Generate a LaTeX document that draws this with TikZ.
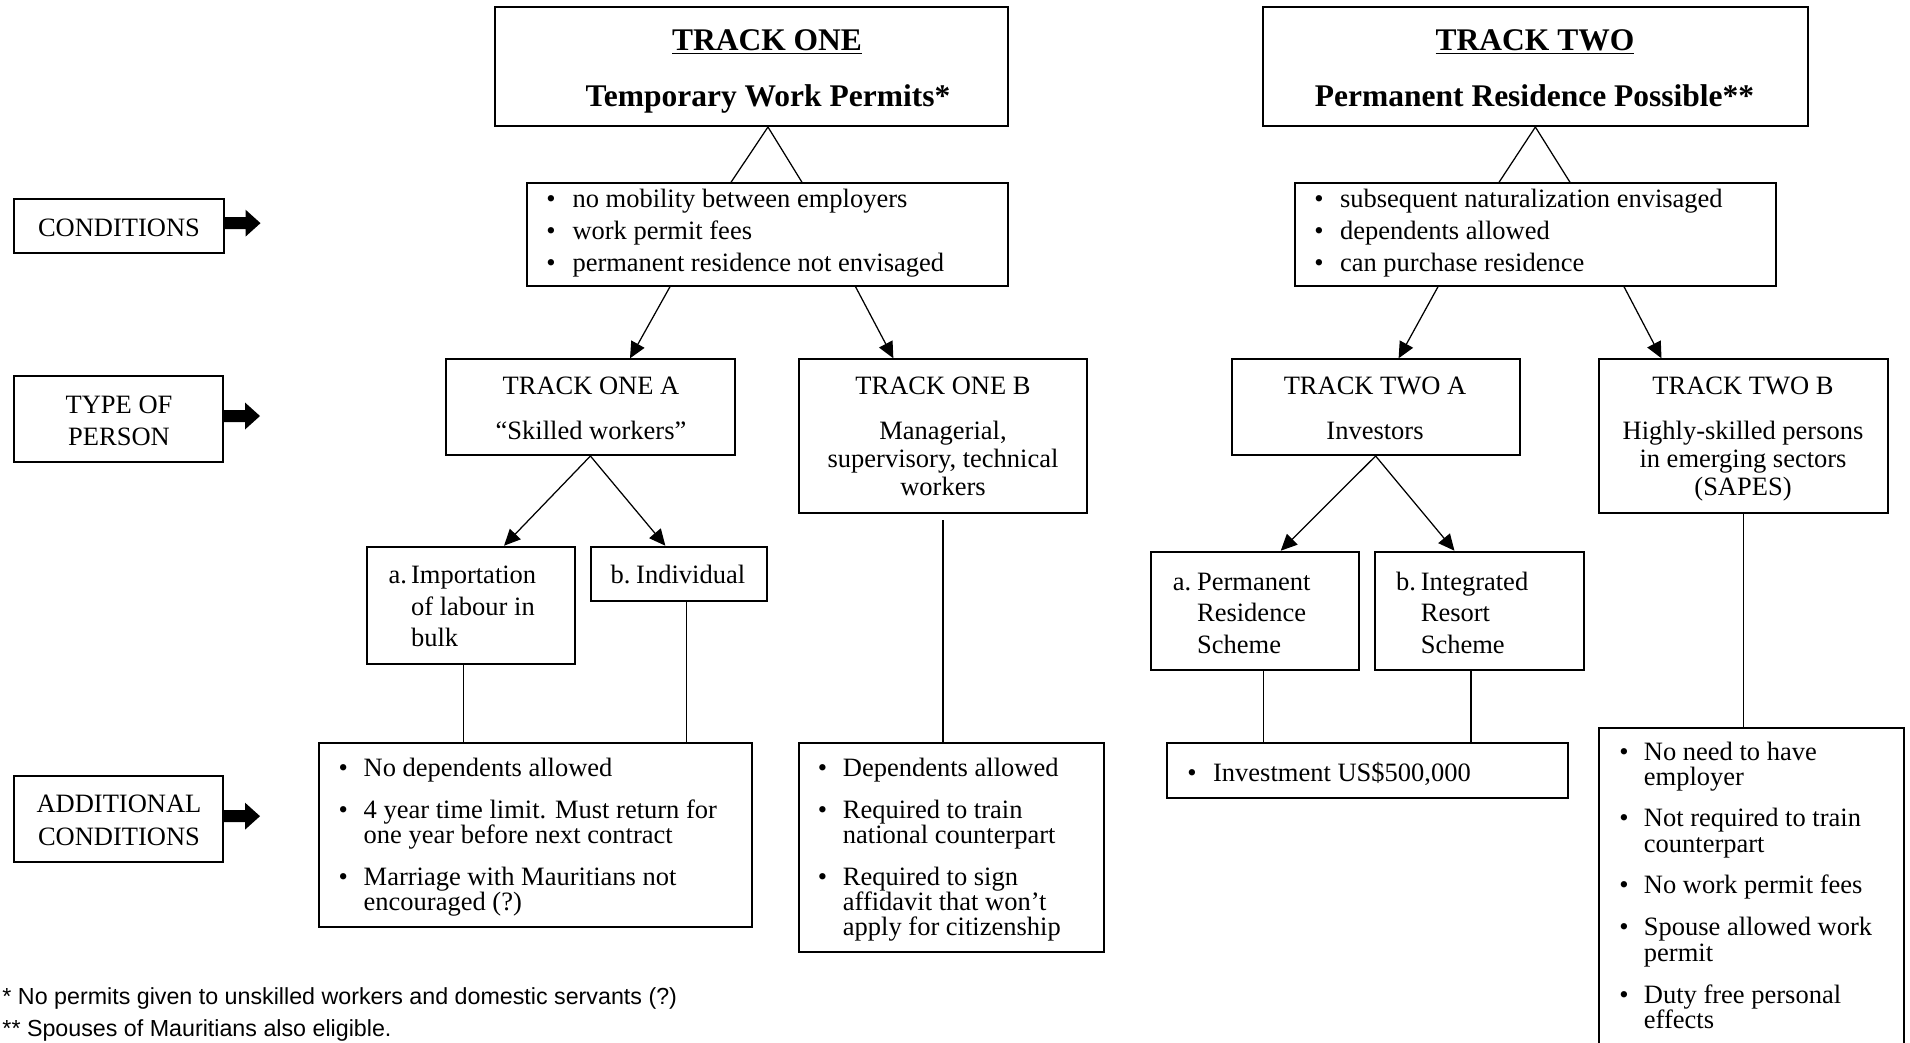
\documentclass[tikz,border=0pt]{standalone}
\usepackage{fontspec}
\setmainfont{Liberation Serif}
\newfontfamily\fnfont{Liberation Sans}
\usetikzlibrary{fit,calc,arrows.meta}
\newcounter{tlc}
\newcommand\txtL[3]{\stepcounter{tlc}\node[txt,anchor=base west] (t\arabic{tlc}) at (#1,#2) {#3};}
\newcommand\txtC[3]{\stepcounter{tlc}\node[txt,anchor=base] (t\arabic{tlc}) at (#1,#2) {#3};}
\newcommand\ttlC[3]{\stepcounter{tlc}\node[ttl,anchor=base] (t\arabic{tlc}) at (#1,#2) {#3};}
\newcommand\bul[2]{\stepcounter{tlc}\node[txt,anchor=base] (t\arabic{tlc}) at (#1,#2) {\textbullet};}
\begin{document}
\begin{tikzpicture}[x=0.4pt,y=-0.4pt,
 box/.style={draw, line width=0.8pt, inner sep=0pt},
 txt/.style={inner sep=0pt, font=\fontsize{10.6}{12}\selectfont},
 ttl/.style={inner sep=0pt, font=\fontsize{12.6}{15}\selectfont\bfseries},
 fn/.style={inner sep=0pt, font=\fnfont\fontsize{9.3}{11}\selectfont},
 conn/.style={line width=0.5pt},
 arr/.style={conn, -{Triangle[length=6.5pt,width=6pt]}},
 blk/.style={fill=black}]
\useasboundingbox (0,0) rectangle (1910,1042);

% ---------- boxes ----------
\node[box, fit={(494.7,7.3) (1008,126)}] (T1) {};
\node[box, fit={(1262.9,7.3) (1807.8,126)}] (T2) {};
\node[box, fit={(527,183.3) (1008,285.7)}] (C1) {};
\node[box, fit={(1295.4,183.3) (1776,285.7)}] (C2) {};
\node[box, fit={(446,359.3) (734.8,455)}] (T1A) {};
\node[box, fit={(798.5,359.3) (1087.4,512.7)}] (T1B) {};
\node[box, fit={(1231.7,359.3) (1519.5,455)}] (T2A) {};
\node[box, fit={(1599,359.3) (1887.8,512.7)}] (T2B) {};
\node[box, fit={(366.7,546.7) (574.8,664.3)}] (BA) {};
\node[box, fit={(591,546.7) (766.7,600.7)}] (BB) {};
\node[box, fit={(1151,551.7) (1359.3,670)}] (BA2) {};
\node[box, fit={(1374.8,551.7) (1583.5,670)}] (BB2) {};
\node[box, fit={(318.6,743.3) (751.8,926.7)}] (AC1) {};
\node[box, fit={(798.5,743.3) (1104.4,952.3)}] (AC2) {};
\node[box, fit={(1167,743.3) (1568,798.3)}] (INV) {};
\node[box, fit={(1599,727.7) (1903.8,1065)}] (SAP) {};
\node[box, fit={(14.2,199) (223.5,253.3)}] (L1) {};
\node[box, fit={(14.2,375.7) (223,462.3)}] (L2) {};
\node[box, fit={(14.2,776) (223,862.3)}] (L3) {};

% ---------- block arrows ----------
\foreach \lab in {L1,L2,L3}{
  \fill[blk, shift={($(\lab.east)+(0,-3)$)}] (0,-6) -- (21,-6) -- (21,-13.5) -- (36,0) -- (21,13.5) -- (21,6) -- (0,6) -- cycle;
}

% ---------- connectors ----------
\coordinate (ap1) at ($(T1.south)+(16.6,0)$);
\draw[conn] ($(C1.north)+(-36.5,0)$) -- (ap1) -- ($(C1.north)+(34.5,0)$);
\draw[conn] ($(C2.north)+(-36.7,0)$) -- (T2.south) -- ($(C2.north)+(34.3,0)$);

\draw[arr] ($(C1.south)+(-97.5,0)$) -- ($(T1A.north)+(39.6,0)$);
\draw[arr] ($(C1.south)+(88,0)$) -- ($(T1B.north)+(-49.6,0)$);
\draw[arr] ($(C2.south)+(-97.7,0)$) -- ($(T2A.north)+(23,0)$);
\draw[arr] ($(C2.south)+(88.3,0)$) -- ($(T2B.north)+(-81.9,0)$);

\draw[arr] (T1A.south) -- ($(BA.north)+(33.3,0)$);
\draw[arr] (T1A.south) -- ($(BB.north)+(-13.5,0)$);
\draw[arr] (T2A.south) -- ($(BA2.north)+(25.6,0)$);
\draw[arr] (T2A.south) -- ($(BB2.north)+(-24.7,0)$);

\coordinate (va) at ($(BA.south)+(-7,0)$);
\coordinate (vb) at ($(BB.south)+(7.9,0)$);
\coordinate (vc) at ($(T1B.south)+(0,6.6)$);
\coordinate (va2) at ($(BA2.south)+(8.6,0)$);
\coordinate (vb2) at ($(BB2.south)+(-8.2,0)$);
\draw[conn] (va) -- (va |- AC1.north);
\draw[conn] (vb) -- (vb |- AC1.north);
\draw[conn] (vc) -- (vc |- AC2.north);
\draw[conn] (va2) -- (va2 |- INV.north);
\draw[conn] (vb2) -- (vb2 |- INV.north);
\draw[conn] (T2B.south) -- (SAP.north -| T2B.south);

% ---------- labels ----------
\txtC{119}{236}{CONDITIONS}
\txtC{119}{413}{TYPE OF}
\txtC{119}{445}{PERSON}
\txtC{119}{812}{ADDITIONAL}
\txtC{119}{845}{CONDITIONS}

% ---------- titles ----------
\ttlC{767}{50}{\underline{TRACK ONE}}
\ttlC{768}{106}{Temporary Work Permits*}
\ttlC{1535}{50}{\underline{TRACK TWO}}
\ttlC{1534.5}{106}{Permanent Residence Possible**}

% ---------- conditions ----------
\bul{551}{207}\txtL{572}{207}{no mobility between employers}
\bul{551}{239}\txtL{572}{239}{work permit fees}
\bul{551}{271}\txtL{572}{271}{permanent residence not envisaged}
\bul{1319}{207}\txtL{1339.5}{207}{subsequent naturalization envisaged}
\bul{1319}{239}\txtL{1339.5}{239}{dependents allowed}
\bul{1319}{271}\txtL{1339.5}{271}{can purchase residence}

% ---------- type of person ----------
\txtC{591}{394}{TRACK ONE A}
\txtC{591}{439}{“Skilled workers”}
\txtC{943}{394}{TRACK ONE B}
\txtC{943}{439}{Managerial,}
\txtC{943}{467}{supervisory, technical}
\txtC{943}{495}{workers}
\txtC{1375}{394}{TRACK TWO A}
\txtC{1375}{439}{Investors}
\txtC{1743}{394}{TRACK TWO B}
\txtC{1743}{439}{Highly-skilled persons}
\txtC{1743}{467}{in emerging sectors}
\txtC{1743}{495}{(SAPES)}

% ---------- sub-types ----------
\txtL{388}{583}{a.}\txtL{410.6}{583}{Importation}
\txtL{410.6}{615}{of labour in}
\txtL{410.6}{646}{bulk}
\txtL{610}{583}{b.}\txtL{635.7}{583}{Individual}
\txtL{1172.3}{590}{a.}\txtL{1196.6}{590}{Permanent}
\txtL{1196.6}{621}{Residence}
\txtL{1196.6}{653}{Scheme}
\txtL{1395.5}{590}{b.}\txtL{1420.3}{590}{Integrated}
\txtL{1420.3}{621}{Resort}
\txtL{1420.3}{653}{Scheme}

% ---------- additional conditions ----------
\bul{343.3}{776}\txtL{363.2}{776}{No dependents allowed}
\bul{343.3}{818}\txtL{363.2}{818}{4 year time limit. Must return for}
\txtL{363.2}{843}{one year before next contract}
\bul{343.3}{885}\txtL{363.2}{885}{Marriage with Mauritians not}
\txtL{363.2}{910}{encouraged (?)}

\bul{822.6}{776}\txtL{842.4}{776}{Dependents allowed}
\bul{822.6}{818}\txtL{842.4}{818}{Required to train}
\txtL{842.4}{843}{national counterpart}
\bul{822.6}{885}\txtL{842.4}{885}{Required to sign}
\txtL{842.4}{910}{affidavit that won’t}
\txtL{842.4}{935}{apply for citizenship}

\bul{1192}{781}\txtL{1212.6}{781}{Investment US\$500,000}

\bul{1624}{760}\txtL{1643.4}{760}{No need to have}
\txtL{1643.4}{785}{employer}
\bul{1624}{826}\txtL{1643.4}{826}{Not required to train}
\txtL{1643.4}{852}{counterpart}
\bul{1624}{893}\txtL{1643.4}{893}{No work permit fees}
\bul{1624}{935}\txtL{1643.4}{935}{Spouse allowed work}
\txtL{1643.4}{961}{permit}
\bul{1624}{1003}\txtL{1643.4}{1003}{Duty free personal}
\txtL{1643.4}{1028}{effects}

% ---------- footnotes ----------
\node[fn, anchor=base west] (fn1) at (2,1004) {* No permits given to unskilled workers and domestic servants (?)};
\node[fn, anchor=base west] (fn2) at (2,1036) {** Spouses of Mauritians also eligible.};
\end{tikzpicture}
\end{document}
